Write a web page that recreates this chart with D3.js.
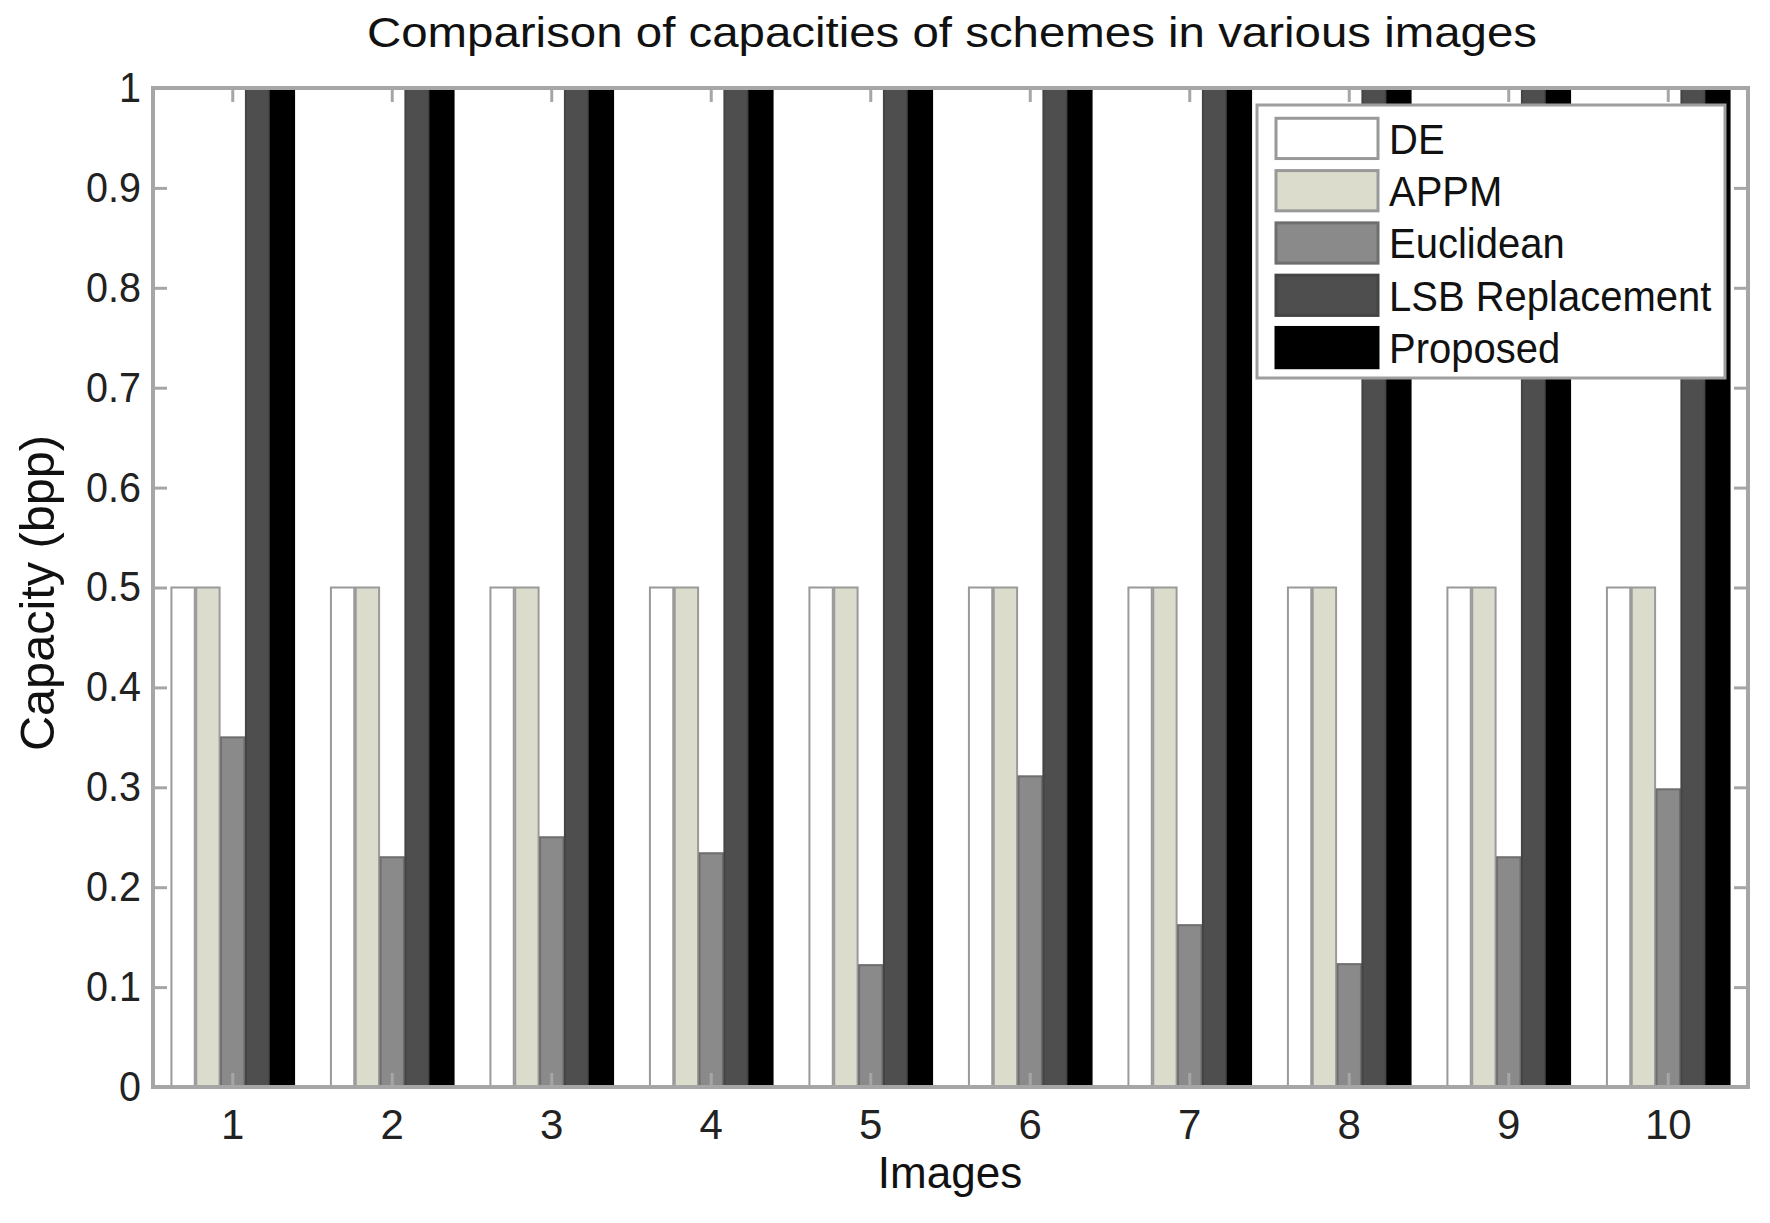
<!DOCTYPE html>
<html>
<head>
<meta charset="utf-8">
<script src="https://cdn.jsdelivr.net/npm/d3@7"></script>
<style>
  html, body { margin: 0; padding: 0; background: #fff; }
  svg { display: block; font-family: "Liberation Sans", Arial, sans-serif; }
</style>
</head>
<body>
<svg id="chart" width="1770" height="1223"></svg>
<script>
// ---- data ----
const categories = ["1", "2", "3", "4", "5", "6", "7", "8", "9", "10"];
const seriesNames = ["DE", "APPM", "Euclidean", "LSB Replacement", "Proposed"];
const deValues        = [0.5, 0.5, 0.5, 0.5, 0.5, 0.5, 0.5, 0.5, 0.5, 0.5];
const appmValues      = [0.5, 0.5, 0.5, 0.5, 0.5, 0.5, 0.5, 0.5, 0.5, 0.5];
const euclideanValues = [0.35, 0.23, 0.25, 0.234, 0.122, 0.311, 0.162, 0.123, 0.23, 0.298];
const lsbValues       = [1, 1, 1, 1, 1, 1, 1, 1, 1, 1];
const proposedValues  = [1, 1, 1, 1, 1, 1, 1, 1, 1, 1];
const yTicks = [0, 0.1, 0.2, 0.3, 0.4, 0.5, 0.6, 0.7, 0.8, 0.9, 1];
const titleText = "Comparison of capacities of schemes in various images";
const xLabel = "Images";
const yLabel = "Capacity (bpp)";

// ---- styles ----
const fills   = ["#ffffff", "#dcdccc", "#8a8a8a", "#4e4e4e", "#000000"];
const strokes = ["#9a9a9a", "#9a9a9a", "#6e6e6e", "#444444", "#000000"];
const allSeries = [deValues, appmValues, euclideanValues, lsbValues, proposedValues];

const svg = d3.select("#chart");
const margin = { left: 153, right: 1748, top: 88, bottom: 1087 };

// condense text horizontally (reference font is narrow)
function condense(sel, f) {
  sel.each(function () {
    const w = this.getComputedTextLength();
    d3.select(this).attr("textLength", w * f).attr("lengthAdjust", "spacingAndGlyphs");
  });
}

const x0 = d3.scaleBand().domain(categories)
  .range([margin.left, margin.right])
  .paddingInner(0.231).paddingOuter(0.1155);
const x1 = d3.scaleBand().domain(seriesNames)
  .range([0, x0.bandwidth()]).paddingInner(0.06).paddingOuter(0.0);
const y = d3.scaleLinear().domain([0, 1]).range([margin.bottom, margin.top]);

// bars
const gBars = svg.append("g");
categories.forEach((c, ci) => {
  const g = gBars.append("g").attr("transform", `translate(${x0(c)},0)`);
  seriesNames.forEach((s, si) => {
    const v = allSeries[si][ci];
    g.append("rect")
      .attr("x", x1(s))
      .attr("width", x1.bandwidth())
      .attr("y", y(v))
      .attr("height", y(0) - y(v))
      .attr("fill", fills[si])
      .attr("stroke", strokes[si])
      .attr("stroke-width", 2);
  });
});

// axes box
const axisColor = "#a6a6a6";
svg.append("rect")
  .attr("x", margin.left).attr("y", margin.top)
  .attr("width", margin.right - margin.left)
  .attr("height", margin.bottom - margin.top)
  .attr("fill", "none").attr("stroke", axisColor).attr("stroke-width", 4);

// y axis (left), ticks inward
const yAxisL = d3.axisLeft(y).tickValues(yTicks).tickFormat(d3.format("")).tickSizeInner(-14).tickSizeOuter(0).tickPadding(12);
const gyL = svg.append("g").attr("transform", `translate(${margin.left},0)`).call(yAxisL);
gyL.select(".domain").remove();
gyL.selectAll(".tick line").attr("stroke", axisColor).attr("stroke-width", 3);
gyL.selectAll(".tick text").attr("font-size", 42).attr("fill", "#222")
  .attr("font-family", "Liberation Sans, Arial, sans-serif").attr("x", -12);
condense(gyL.selectAll(".tick text"), 0.94);

// y axis (right), ticks inward, no labels
const yAxisR = d3.axisRight(y).tickValues(yTicks).tickFormat("").tickSizeInner(-14).tickSizeOuter(0);
const gyR = svg.append("g").attr("transform", `translate(${margin.right},0)`).call(yAxisR);
gyR.select(".domain").remove();
gyR.selectAll(".tick line").attr("stroke", axisColor).attr("stroke-width", 3);

// x axis (bottom)
const xAxisB = d3.axisBottom(x0).tickSizeInner(-14).tickSizeOuter(0).tickPadding(22);
const gxB = svg.append("g").attr("transform", `translate(0,${margin.bottom})`).call(xAxisB);
gxB.select(".domain").remove();
gxB.selectAll(".tick line").attr("stroke", axisColor).attr("stroke-width", 3);
gxB.selectAll(".tick text").attr("font-size", 42).attr("fill", "#222")
  .attr("font-family", "Liberation Sans, Arial, sans-serif");

// x axis (top)
const xAxisT = d3.axisTop(x0).tickFormat("").tickSizeInner(-14).tickSizeOuter(0);
const gxT = svg.append("g").attr("transform", `translate(0,${margin.top})`).call(xAxisT);
gxT.select(".domain").remove();
gxT.selectAll(".tick line").attr("stroke", axisColor).attr("stroke-width", 3);

// title
svg.append("text")
  .attr("x", 952).attr("y", 47)
  .attr("text-anchor", "middle")
  .attr("font-size", 42).attr("fill", "#111")
  .attr("textLength", 1170).attr("lengthAdjust", "spacingAndGlyphs")
  .text(titleText);

// x label
svg.append("text")
  .attr("x", 950).attr("y", 1188)
  .attr("text-anchor", "middle")
  .attr("font-size", 44).attr("fill", "#111")
  .text(xLabel);

// y label
svg.append("text")
  .attr("transform", "translate(54,593) rotate(-90)")
  .attr("text-anchor", "middle")
  .attr("font-size", 48).attr("fill", "#111")
  .attr("textLength", 316).attr("lengthAdjust", "spacingAndGlyphs")
  .text(yLabel);

// legend
const leg = svg.append("g");
leg.append("rect")
  .attr("x", 1257).attr("y", 105).attr("width", 468).attr("height", 273)
  .attr("fill", "#fff").attr("stroke", "#9e9e9e").attr("stroke-width", 3);
const legY = d3.scaleBand().domain(seriesNames).range([112, 374]).paddingInner(0.23).paddingOuter(0.12);
seriesNames.forEach((s, si) => {
  leg.append("rect")
    .attr("x", 1276).attr("y", legY(s))
    .attr("width", 102).attr("height", legY.bandwidth())
    .attr("fill", fills[si]).attr("stroke", si < 2 ? "#999" : strokes[si]).attr("stroke-width", 3);
  leg.append("text")
    .attr("class", "legtext")
    .attr("x", 1389).attr("y", legY(s) + legY.bandwidth() / 2)
    .attr("dy", "0.36em")
    .attr("font-size", 43).attr("fill", "#111")
    .text(s);
});
condense(leg.selectAll(".legtext"), 0.93);
</script>
</body>
</html>
